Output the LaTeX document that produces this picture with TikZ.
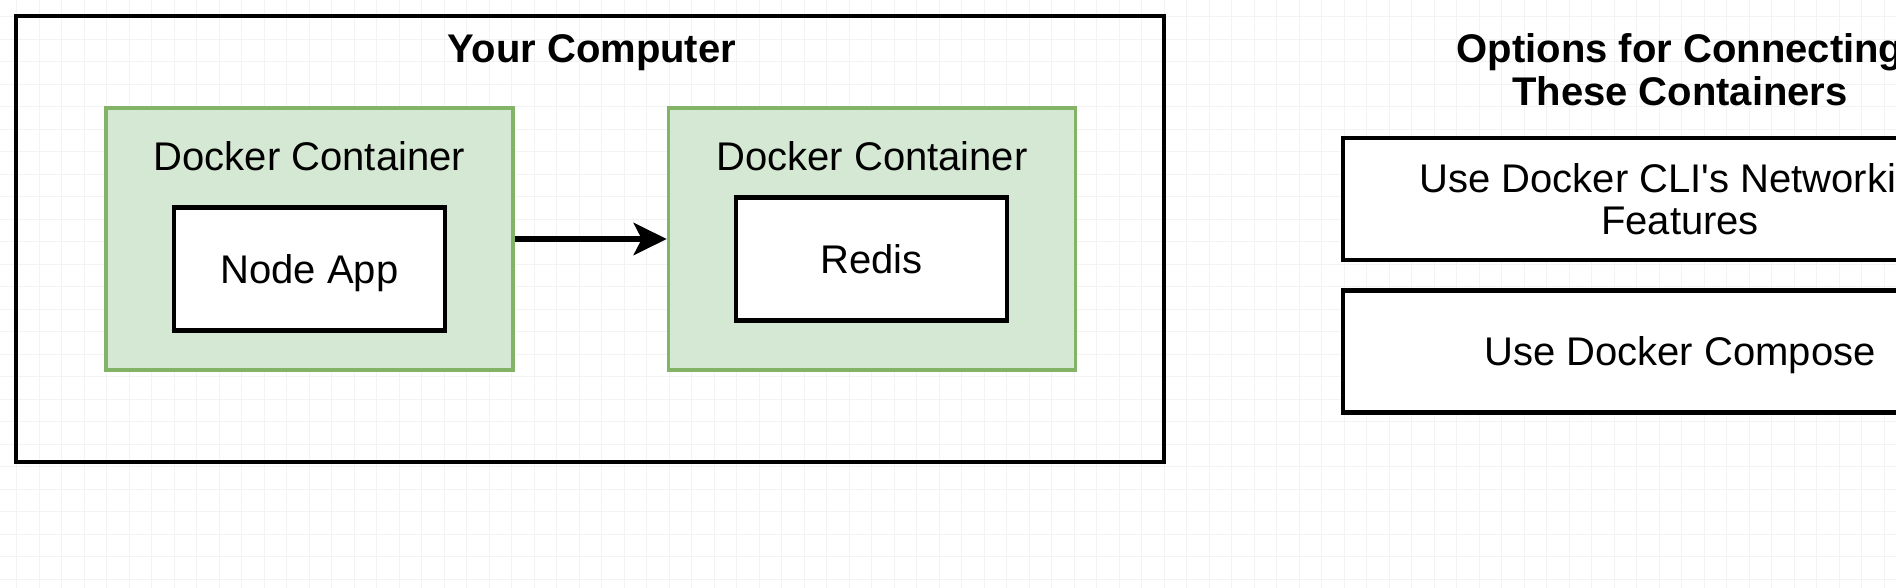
\documentclass[tikz,border=0pt]{standalone}
\usepackage{fontspec}
\setmainfont{Liberation Sans}
\usetikzlibrary{positioning,arrows.meta}

\definecolor{dockerfill}{HTML}{D5E8D4}
\definecolor{dockeredge}{HTML}{82B366}
\definecolor{canvasgrid}{HTML}{F3F3F3}

\begin{document}
\begin{tikzpicture}
        [
            x                  = 0.5pt,
            y                  = -0.5pt,
            every node/.style  = {font=\fontsize{20}{21}\selectfont, inner sep=0pt, text depth=0pt},
            machine/.style     = {shape=rectangle, draw, line width=2.25pt, minimum width=574pt, minimum height=223pt},
            container/.style   = {shape=rectangle, draw=dockeredge, fill=dockerfill, line width=1.75pt, minimum width=203.5pt, minimum height=131pt},
            app/.style         = {shape=rectangle, draw, fill=white, line width=2.25pt, minimum width=135.5pt, minimum height=61.5pt},
            option/.style      = {shape=rectangle, draw, fill=white, line width=2.25pt, minimum width=337pt, minimum height=61pt, align=center},
            heading/.style     = {font=\fontsize{20}{21.5}\selectfont\bfseries, align=center},
            link/.style        = {draw, line width=3pt, -{Stealth[length=16.5pt, width=16pt, inset=4pt]}},
            ]
            \clip (0,0) rectangle (1896,588);
            \fill [white] (0,0) rectangle (1896,588);
            % editor grid
            \draw [canvasgrid, line width=0.5pt, xstep=11.25pt, ystep=11.25pt, shift={(16.7,16.7)}] (-40,-40) grid (1900,600);

            \node [machine] (pc) at (590,239) {};
            \node [heading] (pctitle) at (592,49) {Your Computer};

            \node [container] (nodebox) at (309.5,239) {};
            \node [below=25pt of nodebox.north, anchor=center] {Docker Container};
            \node [app] (nodeapp) at (309.5,269) {Node App};

            \node [container] (redisbox) at (872,239) {};
            \node [below=25pt of redisbox.north, anchor=center] {Docker Container};
            \node [app] (redis) at (871.5,259) {Redis};

            \draw [link] (nodebox.east) -- (redisbox.west);

            % connection options
            \node [heading] (optitle) at (1680,70) {Options for Connecting\\These Containers};
            \node [option] (cli) at (1680,199) {Use Docker CLI\textquotesingle s Networking\\Features};
            \node [option, below=13pt of cli] (compose) {Use Docker Compose};
        \end{tikzpicture}
\end{document}
